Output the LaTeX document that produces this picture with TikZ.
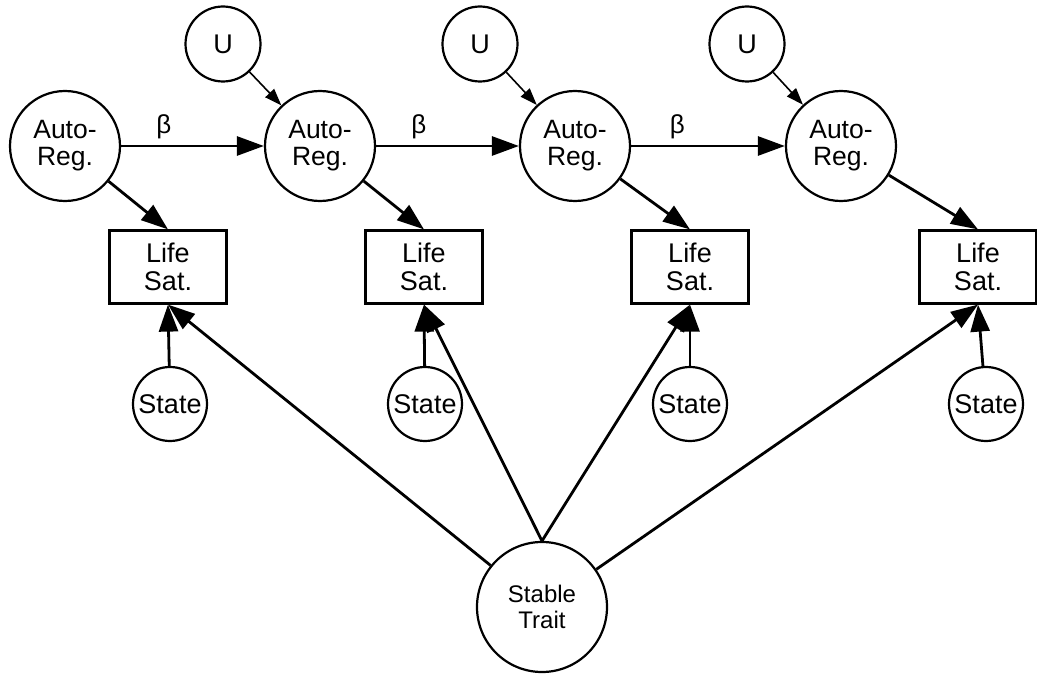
\documentclass[tikz,border=0pt]{standalone}
\usepackage{fontspec}
\setmainfont{Liberation Sans}
\usetikzlibrary{arrows.meta}
\begin{document}
\begin{tikzpicture}[x=1pt,y=-1pt,
  arnode/.style={circle,draw,line width=2.2pt,minimum size=110pt,inner sep=0pt,align=center,font=\fontsize{26.5}{27}\selectfont},
  unode/.style={circle,draw,line width=2.2pt,minimum size=75pt,inner sep=0pt,font=\fontsize{27}{27}\selectfont},
  snode/.style={circle,draw,line width=2.2pt,minimum size=74pt,inner sep=0pt,font=\fontsize{27}{27}\selectfont},
  stnode/.style={circle,draw,line width=2.2pt,minimum size=130pt,inner sep=0pt,align=center,font=\fontsize{24}{26}\selectfont},
  lsnode/.style={rectangle,draw,line width=2.2pt,minimum width=117pt,minimum height=73pt,inner sep=0pt,align=center,font=\fontsize{27}{28}\selectfont},
  bigarrow/.style={line width=2.8pt,-{Triangle[length=27pt,width=19pt]}},
  thinarrow/.style={line width=1.6pt,-{Triangle[length=17pt,width=12pt]}},
  betalabel/.style={font=\fontsize{26}{26}\selectfont,inner sep=0pt}
]
\useasboundingbox (0,0) rectangle (1037,674);

\node[arnode] (ar1) at (65,146) {Auto-\\Reg.};
\node[arnode] (ar2) at (320,146) {Auto-\\Reg.};
\node[arnode] (ar3) at (575,146) {Auto-\\Reg.};
\node[arnode] (ar4) at (841,146) {Auto-\\Reg.};

\node[unode] (u2) at (223,44) {U};
\node[unode] (u3) at (480,44) {U};
\node[unode] (u4) at (747,44) {U};

\node[lsnode] (ls1) at (168,267) {Life\\Sat.};
\node[lsnode] (ls2) at (424,267) {Life\\Sat.};
\node[lsnode] (ls3) at (690,267) {Life\\Sat.};
\node[lsnode] (ls4) at (978,267) {Life\\Sat.};

\node[snode] (s1) at (170,404) {State};
\node[snode] (s2) at (425,404) {State};
\node[snode] (s3) at (690,404) {State};
\node[snode] (s4) at (986,404) {State};

\node[stnode] (st) at (542,607) {Stable\\Trait};

\draw[bigarrow] (ar1) -- node[betalabel,pos=0.3,above=6pt] {β} (ar2);
\draw[bigarrow] (ar2) -- node[betalabel,pos=0.3,above=6pt] {β} (ar3);
\draw[bigarrow] (ar3) -- node[betalabel,pos=0.3,above=6pt] {β} (ar4);

\draw[thinarrow] (u2) -- (ar2);
\draw[thinarrow] (u3) -- (ar3);
\draw[thinarrow] (u4) -- (ar4);

\draw[bigarrow] (ar1) -- (ls1.north);
\draw[bigarrow] (ar2) -- (ls2.north);
\draw[bigarrow] (ar3) -- (ls3.north);
\draw[bigarrow] (ar4) -- (ls4.north);

\draw[bigarrow] (s1) -- (ls1.south);
\draw[bigarrow] (s2) -- (ls2.south);
\draw[bigarrow] (s3) -- (ls3.south);
\draw[bigarrow] (s4) -- (ls4.south);

\draw[bigarrow] (st) -- (ls1.south);
\draw[bigarrow] (st.north) -- (ls2.south);
\draw[bigarrow] (st.north) -- (ls3.south);
\draw[bigarrow] (st) -- (ls4.south);
\end{tikzpicture}
\end{document}
